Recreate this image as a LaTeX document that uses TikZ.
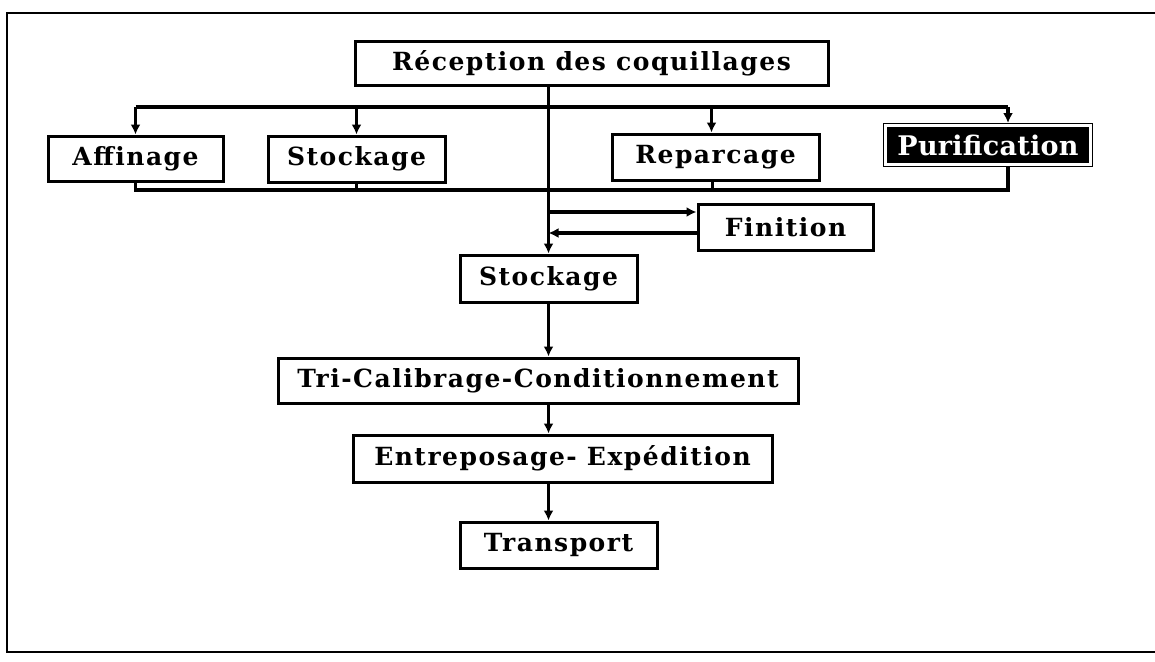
\documentclass[tikz,border=0pt]{standalone}
\usepackage{fontspec}
\setmainfont{DejaVu Serif}
\usetikzlibrary{arrows.meta,calc}
\begin{document}
\begin{tikzpicture}[x=1pt,y=-1pt,
  box/.style={draw, line width=3pt, rectangle, inner sep=0pt, anchor=center,
    font=\fontsize{25}{30}\selectfont\bfseries\addfontfeatures{LetterSpace=6}},
  ln/.style={line width=3.2pt},
  arr/.style={ln,-{Latex[length=10pt,width=10pt]}}]
\useasboundingbox (0,0) rectangle (1155,661);
% frame
\draw[line width=2pt] (1155,13) -- (7,13) -- (7,652) -- (1155,652);
% nodes
\node[box, minimum width=473pt, minimum height=43pt] (rec) at (591.5,63.5) {Réception des coquillages};
\node[box, minimum width=175pt, minimum height=45pt] (aff) at (135.5,158.5) {Affinage};
\node[box, minimum width=177pt, minimum height=46pt] (sto1) at (356.5,159) {Stockage};
\node[box, minimum width=207pt, minimum height=46pt] (rep) at (715.5,157) {Reparcage};
\node[box, line width=1pt, double=white, double distance=3pt, fill=black, text=white,
      minimum width=205pt, minimum height=39pt,
      font=\fontsize{27}{30}\selectfont\bfseries\addfontfeatures{LetterSpace=1}] (pur) at (988,145) {Purification};
\node[box, minimum width=175pt, minimum height=46pt] (fin) at (785.5,227) {Finition};
\node[box, minimum width=177pt, minimum height=47pt] (sto2) at (548.5,278.5) {Stockage};
\node[box, minimum width=520pt, minimum height=45pt] (tri) at (538,380.5) {Tri-Calibrage-Conditionnement};
\node[box, minimum width=419pt, minimum height=47pt] (ent) at (562.5,458.5) {Entreposage- Expédition};
\node[box, minimum width=197pt, minimum height=46pt] (tra) at (558.5,545) {Transport};
% helper coordinates
\coordinate (bt) at (548,107);
\coordinate (mg) at (548,190);
\coordinate (px) at (1008,145);
% main vertical
\draw[arr] (rec.south -| sto2.north) -- (sto2.north);
% branching
\draw[ln] (bt -| aff.north) -- (bt -| px);
\draw[arr] (bt -| aff.north) -- (aff.north);
\draw[arr] (bt -| sto1.north) -- (sto1.north);
\draw[arr] ([xshift=-4pt]bt -| rep.north) -- ([xshift=-4pt]rep.north);
\draw[arr] (bt -| px) -- ([yshift=2pt]px |- pur.north);
% merging
\draw[ln] (aff.south) -- (mg -| aff.south) -- (mg -| px) -- ([yshift=-2pt]px |- pur.south);
\draw[ln] (sto1.south) -- (mg -| sto1.south);
\draw[ln] ([xshift=-3pt]rep.south) -- ([xshift=-3pt]mg -| rep.south);
% finition loop
\draw[arr] ([yshift=15pt]fin.west -| sto2.north) -- ([yshift=15pt]fin.west);
\draw[arr] ([yshift=-6pt]fin.west) -- ([yshift=-6pt]fin.west -| sto2.north);
% lower chain
\draw[arr] (sto2.south) -- (sto2.south |- tri.north);
\draw[arr] (tri.south -| sto2.south) -- (ent.north -| sto2.south);
\draw[arr] (ent.south -| sto2.south) -- (tra.north -| sto2.south);
\end{tikzpicture}
\end{document}
